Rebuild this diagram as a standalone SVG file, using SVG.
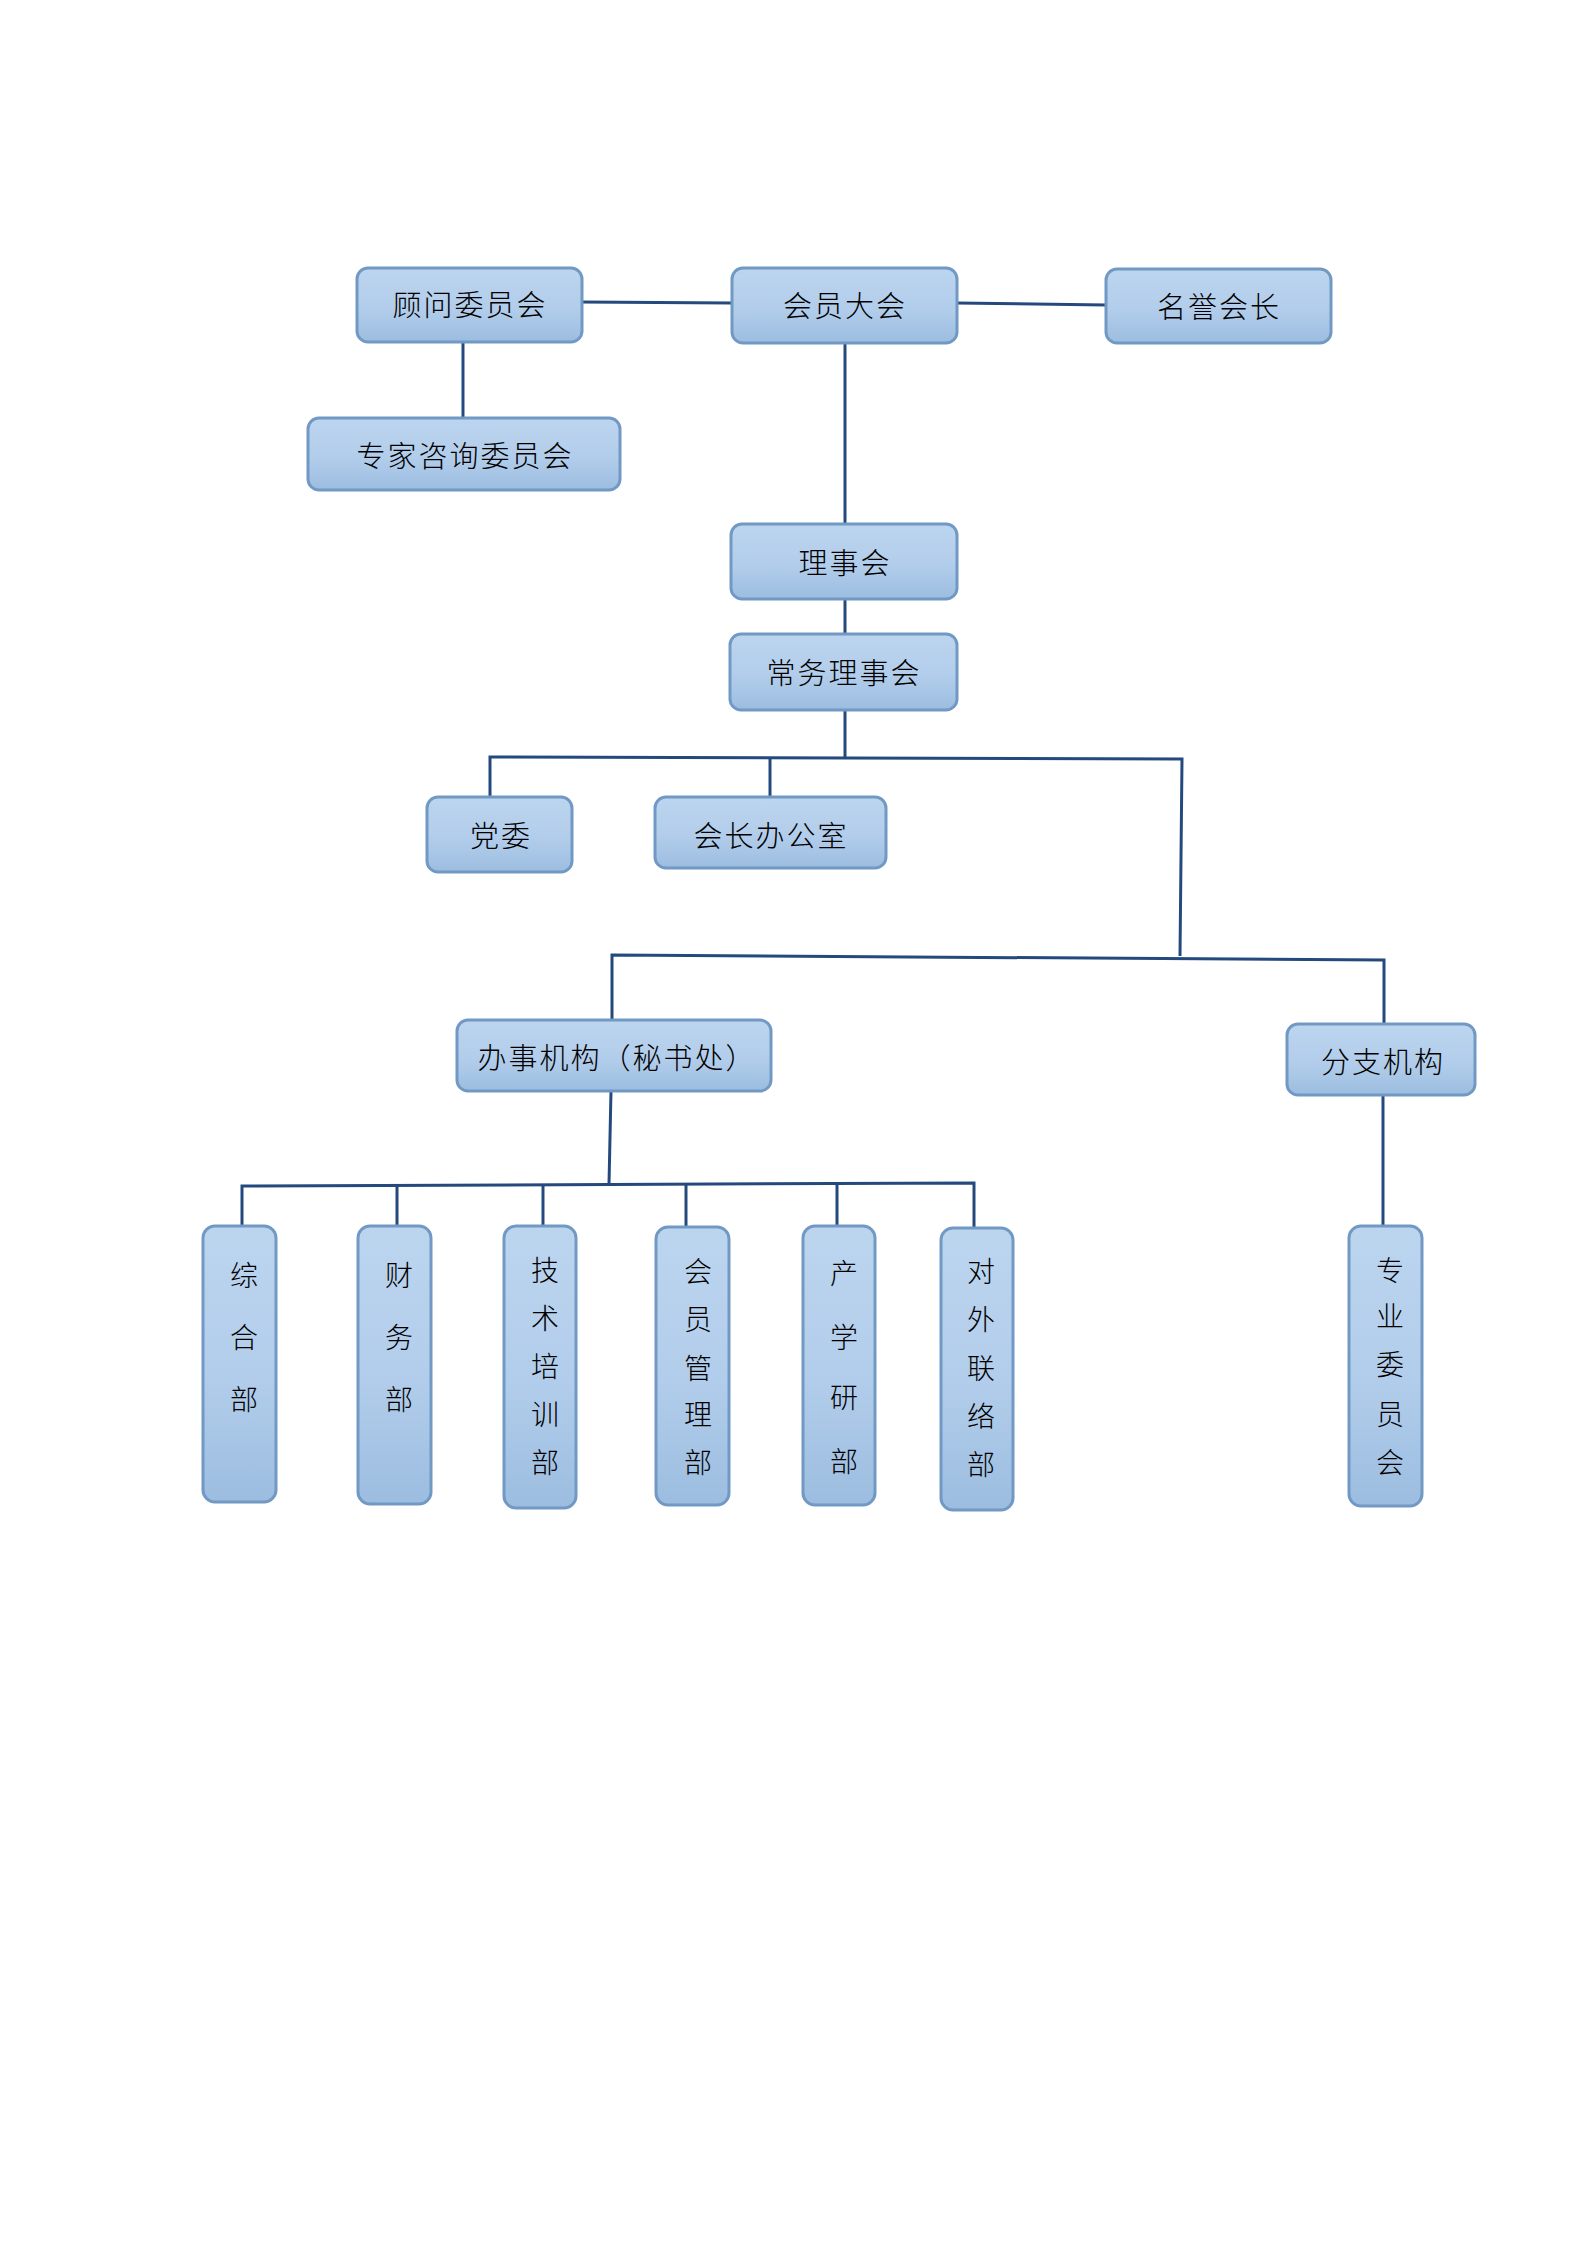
<svg xmlns="http://www.w3.org/2000/svg" width="1587" height="2245" viewBox="0 0 1587 2245">
<defs>
<linearGradient id="g" x1="0" y1="0" x2="0" y2="1">
<stop offset="0" stop-color="#bcd5ef"/>
<stop offset="0.55" stop-color="#b2cdeb"/>
<stop offset="1" stop-color="#9cbde0"/>
</linearGradient>
<style>
.box{fill:url(#g);stroke:#7199c4;stroke-width:3}
.t{font-family:"Noto Sans CJK SC","Noto Sans CJK JP",sans-serif;font-size:29px;font-weight:300;fill:#000;text-anchor:middle;dominant-baseline:central;letter-spacing:2px}
.v{font-family:"Noto Sans CJK SC","Noto Sans CJK JP",sans-serif;font-size:28px;font-weight:300;fill:#000;text-anchor:middle;dominant-baseline:central}
.c{fill:none;stroke:#24497d;stroke-width:3}
</style>
</defs>
<rect width="1587" height="2245" fill="#fff"/>
<g id="connectors">
<path class="c" d="M581,302 L732,303"/>
<path class="c" d="M956,303 L1106,305"/>
<path class="c" d="M463,342 L463,417"/>
<path class="c" d="M845,343 L845,523"/>
<path class="c" d="M845,599 L845,634"/>
<path class="c" d="M845,710 L845,758"/>
<path class="c" d="M490,797 L490,757 L1182,759 L1180,956"/>
<path class="c" d="M770,758 L770,797"/>
<path class="c" d="M612,1020 L612,955 L1384,960 L1384,1025"/>
<path class="c" d="M611,1091 L609,1184"/>
<path class="c" d="M242,1226 L242,1186 L974,1183 L974,1228"/>
<path class="c" d="M397,1185 L397,1226"/>
<path class="c" d="M543,1185 L543,1226"/>
<path class="c" d="M686,1184 L686,1227"/>
<path class="c" d="M837,1184 L837,1226"/>
<path class="c" d="M1383,1095 L1383,1226"/>
</g>
<g id="n1"><rect class="box" x="357" y="268" width="225" height="74" rx="11"/><text class="t" x="470" y="303">顾问委员会</text></g>
<g id="n2"><rect class="box" x="732" y="268" width="225" height="75" rx="11"/><text class="t" x="845" y="304">会员大会</text></g>
<g id="n3"><rect class="box" x="1106" y="269" width="225" height="74" rx="11"/><text class="t" x="1219" y="305">名誉会长</text></g>
<g id="n4"><rect class="box" x="308" y="418" width="312" height="72" rx="11"/><text class="t" x="465" y="454">专家咨询委员会</text></g>
<g id="n5"><rect class="box" x="731" y="524" width="226" height="75" rx="11"/><text class="t" x="845" y="561">理事会</text></g>
<g id="n6"><rect class="box" x="730" y="634" width="227" height="76" rx="11"/><text class="t" x="844" y="671">常务理事会</text></g>
<g id="n7"><rect class="box" x="427" y="797" width="145" height="75" rx="11"/><text class="t" x="501" y="834">党委</text></g>
<g id="n8"><rect class="box" x="655" y="797" width="231" height="71" rx="11"/><text class="t" x="771" y="834">会长办公室</text></g>
<g id="n9"><rect class="box" x="457" y="1020" width="314" height="71" rx="11"/><text class="t" x="617" y="1056" letter-spacing="0">办事机构（秘书处）</text></g>
<g id="n10"><rect class="box" x="1287" y="1024" width="188" height="71" rx="11"/><text class="t" x="1383" y="1060" letter-spacing="4">分支机构</text></g>
<g id="n11"><rect class="box" x="203" y="1226" width="73" height="276" rx="12"/><text class="v"><tspan x="244" y="1274">综</tspan><tspan x="244" y="1336">合</tspan><tspan x="244" y="1398">部</tspan></text></g>
<g id="n12"><rect class="box" x="358" y="1226" width="73" height="278" rx="12"/><text class="v"><tspan x="399" y="1274">财</tspan><tspan x="399" y="1336">务</tspan><tspan x="399" y="1398">部</tspan></text></g>
<g id="n13"><rect class="box" x="504" y="1226" width="72" height="282" rx="12"/><text class="v"><tspan x="545" y="1269">技</tspan><tspan x="545" y="1317">术</tspan><tspan x="545" y="1365">培</tspan><tspan x="545" y="1413">训</tspan><tspan x="545" y="1461">部</tspan></text></g>
<g id="n14"><rect class="box" x="656" y="1227" width="73" height="278" rx="12"/><text class="v"><tspan x="698" y="1270">会</tspan><tspan x="698" y="1318">员</tspan><tspan x="698" y="1367">管</tspan><tspan x="698" y="1413">理</tspan><tspan x="698" y="1461">部</tspan></text></g>
<g id="n15"><rect class="box" x="803" y="1226" width="72" height="279" rx="12"/><text class="v"><tspan x="844" y="1272">产</tspan><tspan x="844" y="1336">学</tspan><tspan x="844" y="1396">研</tspan><tspan x="844" y="1460">部</tspan></text></g>
<g id="n16"><rect class="box" x="941" y="1228" width="72" height="282" rx="12"/><text class="v"><tspan x="981" y="1270">对</tspan><tspan x="981" y="1318">外</tspan><tspan x="981" y="1367">联</tspan><tspan x="981" y="1415">络</tspan><tspan x="981" y="1463">部</tspan></text></g>
<g id="n17"><rect class="box" x="1349" y="1226" width="73" height="280" rx="12"/><text class="v"><tspan x="1390" y="1269">专</tspan><tspan x="1390" y="1315">业</tspan><tspan x="1390" y="1363">委</tspan><tspan x="1390" y="1413">员</tspan><tspan x="1390" y="1461">会</tspan></text></g>
</svg>
